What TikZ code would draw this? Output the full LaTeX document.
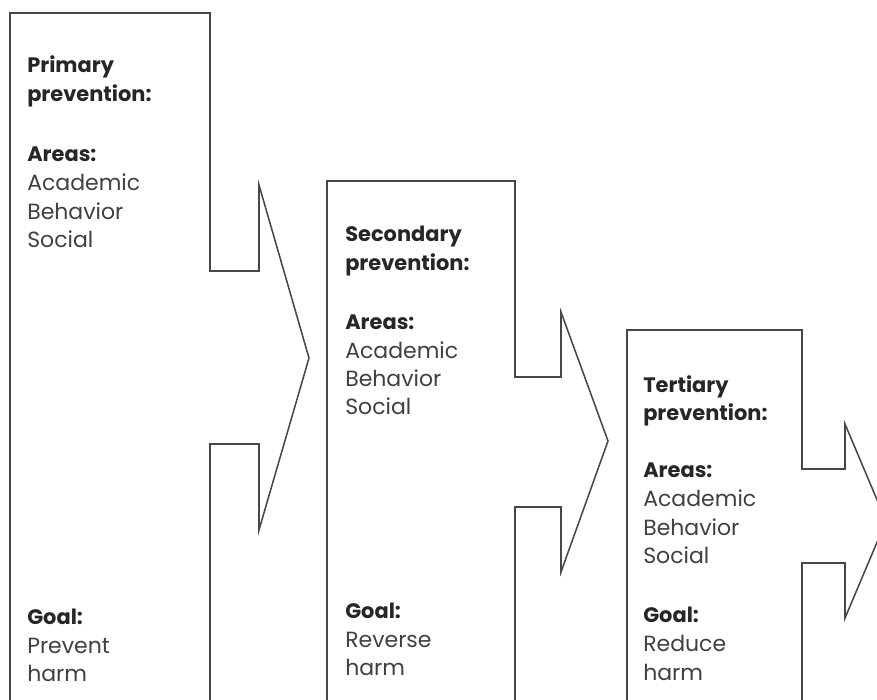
\documentclass[tikz,border=0pt]{standalone}
\usepackage{fontspec}
\setmainfont{Poppins}
\begin{document}
\begin{tikzpicture}[x=0.75pt,y=-0.75pt,
  outline/.style={draw=black!72,line width=1.15pt,line join=miter},
  hd/.style={anchor=base west,inner sep=0pt,font=\fontsize{15.7}{18}\selectfont\bfseries,text=black!85},
  tx/.style={anchor=base west,inner sep=0pt,font=\fontsize{16.5}{18}\selectfont,text=black!75}]
\useasboundingbox (0,0) rectangle (877,699);
\begin{scope}
\clip (0,0) rectangle (877,699);
% shape 1
\draw[outline] (10,705) -- (10,13) -- (210,13) -- (210,271) -- (259,271) -- (259,185)
  -- (309,358) -- (259,530) -- (259,444) -- (210,444) -- (210,705);
% shape 2
\draw[outline] (327,705) -- (327,181) -- (515,181) -- (515,377) -- (561,377) -- (561,312)
  -- (608,441) -- (561,572) -- (561,507) -- (515,507) -- (515,705);
% shape 3
\draw[outline] (627,705) -- (627,330) -- (802,330) -- (802,469) -- (845,469) -- (845,424)
  -- (886,521) -- (845,618) -- (845,563) -- (802,563) -- (802,705);
\end{scope}
% texts shape 1
\node[hd] (p1) at (27,73) {Primary};
\node[hd] (p2) at (27,101) {prevention:};
\node[hd] (p3) at (27,161) {Areas:};
\node[tx] (p4) at (27,190) {Academic};
\node[tx] (p5) at (27,219) {Behavior};
\node[tx] (p6) at (27,247) {Social};
\node[hd] (p7) at (27,624) {Goal:};
\node[tx] (p8) at (27,653) {Prevent};
\node[tx] (p9) at (27,681) {harm};
% texts shape 2
\node[hd] (s1) at (345,241) {Secondary};
\node[hd] (s2) at (345,270) {prevention:};
\node[hd] (s3) at (345,329) {Areas:};
\node[tx] (s4) at (345,358) {Academic};
\node[tx] (s5) at (345,386) {Behavior};
\node[tx] (s6) at (345,414) {Social};
\node[hd] (s7) at (345,618) {Goal:};
\node[tx] (s8) at (345,647) {Reverse};
\node[tx] (s9) at (345,675) {harm};
% texts shape 3
\node[hd] (t1) at (643,392) {Tertiary};
\node[hd] (t2) at (643,420) {prevention:};
\node[hd] (t3) at (643,477) {Areas:};
\node[tx] (t4) at (643,506) {Academic};
\node[tx] (t5) at (643,535) {Behavior};
\node[tx] (t6) at (643,563) {Social};
\node[hd] (t7) at (643,622) {Goal:};
\node[tx] (t8) at (643,651) {Reduce};
\node[tx] (t9) at (643,680) {harm};
\end{tikzpicture}
\end{document}
